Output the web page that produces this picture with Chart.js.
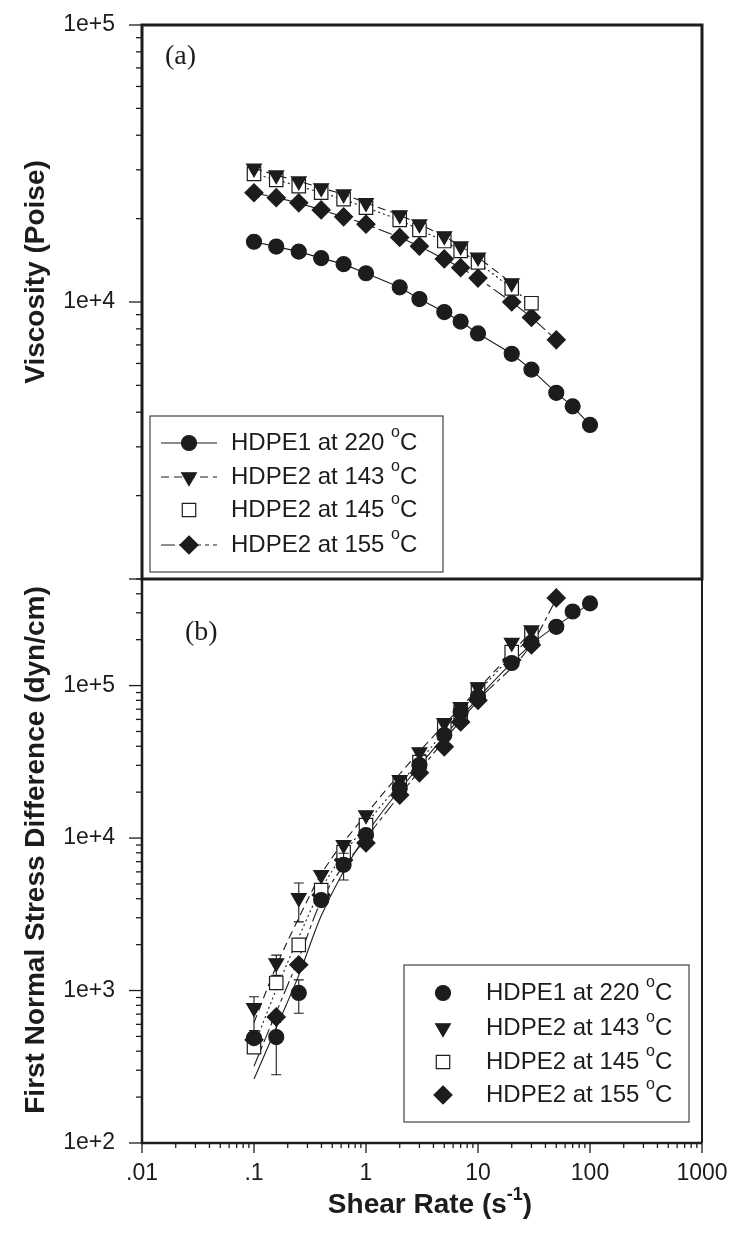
<!DOCTYPE html>
<html>
<head>
<meta charset="utf-8">
<script src="https://cdn.jsdelivr.net/npm/chart.js@4.4.0/dist/chart.umd.min.js"></script>
<style>
  html, body { margin: 0; padding: 0; background: #fff; }
</style>
</head>
<body>
<canvas id="chart" width="732" height="1241"></canvas>
<script>
// shear rates (1/s)
const rates = [0.1, 0.158, 0.251, 0.398, 0.631, 1, 2, 3, 5, 7, 10, 20, 30, 50, 70, 100];
const names = ['HDPE1 at 220 ', 'HDPE2 at 143 ', 'HDPE2 at 145 ', 'HDPE2 at 155 '];

// (a) viscosity, Poise
const visc220 = [16500, 15850, 15200, 14400, 13700, 12700, 11300, 10250, 9200, 8500, 7700, 6500, 5700, 4700, 4200, 3600];
const visc143 = [30400, 28700, 27300, 25800, 24500, 22800, 20600, 19100, 17300, 15900, 14500, 11700];
const visc145 = [29000, 27600, 26200, 24800, 23500, 21900, 19800, 18200, 16600, 15300, 13900, 11200, 9900];
const visc155 = [24800, 23800, 22800, 21500, 20300, 19100, 17100, 15900, 14300, 13300, 12200, 10000, 8800, 7300];

// (b) first normal stress difference, dyn/cm
const n1_220 = [488, 495, 964, 3920, 6670, 10470, 21200, 30100, 47400, 67100, 84100, 140600, 191000, 243000, 306000, 346000];
const n1_143 = [769, 1514, 4046, 5728, 9016, 14160, 24040, 36640, 56890, 72440, 97720, 191000, 230700];
const n1_145 = [425, 1121, 1992, 4553, 8088, 12170, 22660, 31460, 52670, 67080, 93640, 165900, 214700];
const n1_155 = [475, 671, 1476, 4230, 7187, 9280, 19150, 26760, 39680, 57690, 80080, 147200, 184600, 375700];

// error bars: series index, rate, low, high
const errBars = [
  [0, 0.158, 280, 617],
  [0, 0.251, 710, 1175],
  [1, 0.1, 547, 910],
  [1, 0.158, 1257, 1706],
  [1, 0.251, 2818, 5070],
  [0, 0.631, 5310, 7950]
];

// fitted curves in (b)
const fitX = [0.1, 0.158, 0.251, 0.4, 1, 3, 10, 30, 100];
const fit220 = [263, 570, 1257, 3119, 10500, 29700, 82800, 186200, 346000];
const fit143 = [617, 1439, 2992, 5821, 14290, 36900, 94800, 226000];
const fit145 = [432, 1016, 2239, 4656, 12250, 31900, 90360, 213300];
const fitX155 = [0.1, 0.158, 0.251, 0.4, 1, 3, 10, 30, 50];
const fit155 = [319, 721, 1622, 3882, 9954, 27610, 79800, 186200, 370700];

const xTickText = { '-2': '.01', '-1': '.1', '0': '1', '1': '10', '2': '100', '3': '1000' };

const ink = '#1c1c1c';
const dashes = [[], [8, 5], [2, 3], [14, 4, 4, 4]];
const styles = ['circle', 'triangle', 'rect', 'rectRot'];
const radii = [7.5, 8.5, 9.5, 9];

function pts(xs, ys) {
  return ys.map((v, i) => ({ x: xs[i], y: v }));
}

function isDecade(v) {
  let l = Math.log10(v);
  return Math.abs(l - Math.round(l)) < 1e-6;
}

function mantissaOk(v) {
  let m = v / Math.pow(10, Math.floor(Math.log10(v) + 1e-9));
  return Math.abs(m - Math.round(m)) < 1e-6;
}

function pointSet(values, i, axis, line) {
  return {
    data: pts(rates, values),
    yAxisID: axis,
    showLine: line,
    borderColor: ink,
    borderWidth: 1.1,
    borderDash: dashes[i],
    pointStyle: styles[i],
    pointRotation: i == 1 ? 180 : 0,
    pointRadius: radii[i],
    pointBackgroundColor: i == 2 ? '#fff' : ink,
    pointBorderColor: ink,
    pointBorderWidth: 1.2
  };
}

function fitSet(xs, ys, i) {
  return {
    data: pts(xs, ys),
    yAxisID: 'yb',
    showLine: true,
    cubicInterpolationMode: 'monotone',
    borderColor: ink,
    borderWidth: 1.1,
    borderDash: dashes[i],
    pointRadius: 0
  };
}

function drawMarker(ctx, i, x, y) {
  let r = radii[i];
  ctx.save();
  ctx.fillStyle = i == 2 ? '#fff' : ink;
  ctx.strokeStyle = ink;
  ctx.lineWidth = 1.2;
  ctx.beginPath();
  if (i == 0) {
    ctx.arc(x, y, r, 0, Math.PI * 2);
  } else if (i == 1) {
    ctx.moveTo(x - r * 0.866, y - r * 0.5);
    ctx.lineTo(x + r * 0.866, y - r * 0.5);
    ctx.lineTo(x, y + r);
    ctx.closePath();
  } else if (i == 2) {
    let s = r * Math.SQRT1_2;
    ctx.rect(x - s, y - s, 2 * s, 2 * s);
  } else {
    ctx.moveTo(x, y - r);
    ctx.lineTo(x + r, y);
    ctx.lineTo(x, y + r);
    ctx.lineTo(x - r, y);
    ctx.closePath();
  }
  ctx.fill();
  ctx.stroke();
  ctx.restore();
}

// text pieces [text, font, raise]
function drawPieces(ctx, x, y, pieces, align) {
  let total = 0;
  pieces.forEach(p => { ctx.font = p[1]; total += ctx.measureText(p[0]).width; });
  let cx = align == 'center' ? x - total / 2 : x;
  ctx.textAlign = 'left';
  ctx.textBaseline = 'middle';
  pieces.forEach(p => {
    ctx.font = p[1];
    ctx.fillText(p[0], cx, y - p[2]);
    cx += ctx.measureText(p[0]).width;
  });
}

const fTxt = '24px "Liberation Sans", Arial, sans-serif';
const fSup = '16px "Liberation Sans", Arial, sans-serif';
const fBold = 'bold 28px "Liberation Sans", Arial, sans-serif';
const fBoldSup = 'bold 18px "Liberation Sans", Arial, sans-serif';
const fSerif = '28px "Liberation Serif", "Times New Roman", serif';

function legendRow(ctx, label, y, xText) {
  drawPieces(ctx, xText, y, [[label, fTxt, 0], ['o', fSup, 10], ['C', fTxt, 0]], 'left');
}

const decor = {
  id: 'decor',
  afterDatasetsDraw(chart) {
    let ctx = chart.ctx, sx = chart.scales.x, sb = chart.scales.yb;
    ctx.save();
    ctx.strokeStyle = ink;
    ctx.lineWidth = 1.1;
    errBars.forEach(e => {
      let x = sx.getPixelForValue(e[1]);
      let y1 = sb.getPixelForValue(e[2]), y2 = sb.getPixelForValue(e[3]);
      ctx.beginPath();
      ctx.moveTo(x, y1); ctx.lineTo(x, y2);
      ctx.moveTo(x - 5, y1); ctx.lineTo(x + 5, y1);
      ctx.moveTo(x - 5, y2); ctx.lineTo(x + 5, y2);
      ctx.stroke();
    });
    ctx.restore();
  },
  afterDraw(chart) {
    let ctx = chart.ctx, ca = chart.chartArea;
    let sx = chart.scales.x, sa = chart.scales.ya, sb = chart.scales.yb;
    ctx.save();
    ctx.strokeStyle = ink;
    ctx.fillStyle = ink;

    // ticks
    ctx.lineWidth = 1.3;
    [sa, sb].forEach(s => {
      s.ticks.forEach(t => {
        if (!mantissaOk(t.value)) return;
        let y = s.getPixelForValue(t.value);
        let len = isDecade(t.value) ? 13 : 6;
        ctx.beginPath(); ctx.moveTo(ca.left - len, y); ctx.lineTo(ca.left, y); ctx.stroke();
      });
    });
    sx.ticks.forEach(t => {
      if (!mantissaOk(t.value)) return;
      let x = sx.getPixelForValue(t.value);
      let len = isDecade(t.value) ? 10 : 5;
      ctx.beginPath(); ctx.moveTo(x, ca.bottom); ctx.lineTo(x, ca.bottom + len); ctx.stroke();
    });

    // frames
    ctx.lineWidth = 3;
    ctx.strokeRect(ca.left, sa.top, ca.right - ca.left, sa.bottom - sa.top);
    ctx.lineWidth = 2.5;
    ctx.beginPath();
    ctx.moveTo(ca.left, sb.top); ctx.lineTo(ca.left, sb.bottom); ctx.lineTo(ca.right, sb.bottom);
    ctx.stroke();
    ctx.lineWidth = 2;
    ctx.beginPath(); ctx.moveTo(ca.right, sb.top); ctx.lineTo(ca.right, sb.bottom); ctx.stroke();

    // panel labels
    ctx.font = fSerif;
    ctx.textAlign = 'left';
    ctx.textBaseline = 'middle';
    ctx.fillText('(a)', 165, 57);
    ctx.fillText('(b)', 185, 633);

    // axis titles
    ctx.save();
    ctx.translate(36, 272);
    ctx.rotate(-Math.PI / 2);
    ctx.font = fBold;
    ctx.textAlign = 'center';
    ctx.fillText('Viscosity (Poise)', 0, 0);
    ctx.restore();
    ctx.save();
    ctx.translate(36, 850);
    ctx.rotate(-Math.PI / 2);
    ctx.font = fBold;
    ctx.textAlign = 'center';
    ctx.fillText('First Normal Stress Difference (dyn/cm)', 0, 0);
    ctx.restore();
    drawPieces(ctx, 430, 1205, [['Shear Rate (s', fBold, 0], ['-1', fBoldSup, 10], [')', fBold, 0]], 'center');

    // legend (a)
    ctx.lineWidth = 1.2;
    ctx.strokeStyle = '#444';
    ctx.strokeRect(150, 416, 293, 156);
    let rowsA = [443, 477, 510, 545];
    names.forEach((n, i) => {
      let y = rowsA[i];
      ctx.save();
      ctx.strokeStyle = ink;
      ctx.lineWidth = 1.1;
      ctx.setLineDash(dashes[i]);
      if (i != 2) {
        ctx.beginPath(); ctx.moveTo(161, y); ctx.lineTo(217, y); ctx.stroke();
      }
      ctx.restore();
      drawMarker(ctx, i, 189, y);
      legendRow(ctx, n, y, 231);
    });

    // legend (b)
    ctx.strokeStyle = '#444';
    ctx.lineWidth = 1.2;
    ctx.strokeRect(404, 965, 285, 157);
    let rowsB = [993, 1028, 1062, 1095];
    names.forEach((n, i) => {
      drawMarker(ctx, i, 443, rowsB[i]);
      legendRow(ctx, n, rowsB[i], 486);
    });
    ctx.restore();
  }
};

const ctx = document.getElementById('chart').getContext('2d');
Chart.defaults.color = ink;
Chart.defaults.font.family = '"Liberation Sans", Arial, sans-serif';
Chart.defaults.font.size = 23;

function noPad(s) {
  s.paddingTop = 0;
  s.paddingBottom = 0;
  s.paddingLeft = 0;
  s.paddingRight = 0;
}

const chart = new Chart(ctx, {
  type: 'scatter',
  data: {
    datasets: [
      pointSet(visc220, 0, 'ya', true),
      pointSet(visc143, 1, 'ya', true),
      pointSet(visc145, 2, 'ya', true),
      pointSet(visc155, 3, 'ya', true),
      pointSet(n1_220, 0, 'yb', false),
      pointSet(n1_143, 1, 'yb', false),
      pointSet(n1_145, 2, 'yb', false),
      pointSet(n1_155, 3, 'yb', false),
      fitSet(fitX, fit220, 0),
      fitSet(fitX, fit143, 1),
      fitSet(fitX, fit145, 2),
      fitSet(fitX155, fit155, 3)
    ]
  },
  options: {
    responsive: false,
    animation: false,
    events: [],
    layout: { padding: { top: 25, right: 30, bottom: 0, left: 0 } },
    plugins: {
      legend: { display: false },
      tooltip: { enabled: false }
    },
    scales: {
      x: {
        type: 'logarithmic',
        min: 0.01,
        max: 1000,
        grid: { display: false, drawTicks: false },
        border: { display: false },
        afterFit: s => { s.height = 98; noPad(s); },
        ticks: {
          autoSkip: false,
          maxRotation: 0,
          padding: 17,
          callback: v => isDecade(v) ? xTickText[String(Math.round(Math.log10(v)))] : ''
        }
      },
      yb: {
        type: 'logarithmic',
        position: 'left',
        stack: 'panels',
        stackWeight: 564,
        min: 100,
        max: 500000,
        grid: { display: false, drawTicks: false },
        border: { display: false },
        afterFit: s => { s.width = 142; noPad(s); },
        ticks: {
          autoSkip: false,
          padding: 27,
          callback: v => isDecade(v) ? '1e+' + Math.round(Math.log10(v)) : ''
        }
      },
      ya: {
        type: 'logarithmic',
        position: 'left',
        stack: 'panels',
        stackWeight: 554,
        min: 1000,
        max: 100000,
        grid: { display: false, drawTicks: false },
        border: { display: false },
        afterFit: s => { s.width = 142; noPad(s); },
        ticks: {
          autoSkip: false,
          padding: 27,
          callback: v => (isDecade(v) && v > 1000) ? '1e+' + Math.round(Math.log10(v)) : ''
        }
      }
    }
  },
  plugins: [decor]
});
</script>
</body>
</html>
